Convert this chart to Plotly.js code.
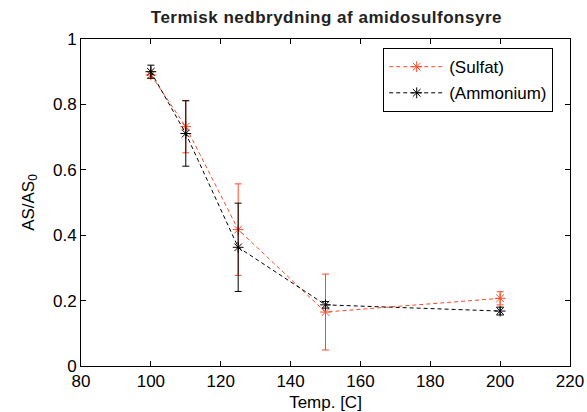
<!DOCTYPE html>
<html><head><meta charset="utf-8">
<script src="https://cdn.plot.ly/plotly-3.0.1.min.js"></script>
<style>body{margin:0;padding:0;background:#fff}#chart{width:587px;height:412px}
.gtitle{letter-spacing:0.5px}</style>
</head><body><div id="chart"></div>
<script>
const temps = [100, 110, 125, 150, 200];
const sulfat = [0.89, 0.732, 0.417, 0.165, 0.207];
const sulfatErr = [0.01, 0.08, 0.14, 0.116, 0.02];
const ammonium = [0.90, 0.711, 0.363, 0.187, 0.168];
const ammoniumErr = [0.02, 0.10, 0.135, 0.01, 0.012];
const xTicks = [80, 100, 120, 140, 160, 180, 200, 220];
const yTicks = [0, 0.2, 0.4, 0.6, 0.8, 1];
const red = '#ff4a26';
const font = 'Liberation Sans, Arial, sans-serif';

function series(name, y, err, color, grp) {
  return {
    x: temps, y: y, name: name, type: 'scatter', mode: 'lines+markers', legendgroup: grp,
    line: {color: color, width: 1, dash: '4px,3px'},
    marker: {symbol: 'asterisk-open', size: 9, color: color, line: {color: color, width: 1}},
    error_y: {type: 'data', array: err, visible: true, color: color, thickness: 1, width: 3.5}
  };
}
const data = [
  series('(Sulfat)', sulfat, sulfatErr, red, 'a'),
  series('(Ammonium)', ammonium, ammoniumErr, '#000', 'b')
];
const layout = {
  width: 587, height: 412,
  margin: {l: 81, r: 17, t: 39, b: 46},
  paper_bgcolor: '#fff', plot_bgcolor: '#fff',
  font: {family: font, size: 17, color: '#000'},
  title: {text: '<b>Termisk nedbrydning af amidosulfonsyre</b>', font: {family: font, size: 17, color: '#222'}, x: 0.556, xanchor: 'center', y: 0.958, yanchor: 'middle'},
  xaxis: {range: [80, 220], tickvals: xTicks, ticktext: xTicks.map(String), ticks: 'inside', ticklen: 5, tickcolor: '#000',
    showline: true, linecolor: '#000', linewidth: 1, mirror: 'ticks', showgrid: false, zeroline: false,
    title: {text: 'Temp. [C]', font: {size: 17}, standoff: 7}, tickfont: {size: 17}},
  yaxis: {range: [0, 1], tickvals: yTicks, ticktext: ['0', '0.2', '0.4', '0.6', '0.8', '1'], ticks: 'inside', ticklen: 5, tickcolor: '#000',
    showline: true, linecolor: '#000', linewidth: 1, mirror: 'ticks', showgrid: false, zeroline: false,
    title: {text: 'AS/AS<sub>0</sub>', font: {size: 17}, standoff: 14}, tickfont: {size: 17}},
  showlegend: true,
  legend: {x: 0.618, y: 0.972, xanchor: 'left', yanchor: 'top', bordercolor: '#000', borderwidth: 1, bgcolor: '#fff',
    font: {size: 17}, traceorder: 'grouped', tracegroupgap: 1, itemwidth: 55}
};
Plotly.newPlot('chart', data, layout, {displayModeBar: false});
</script></body></html>
